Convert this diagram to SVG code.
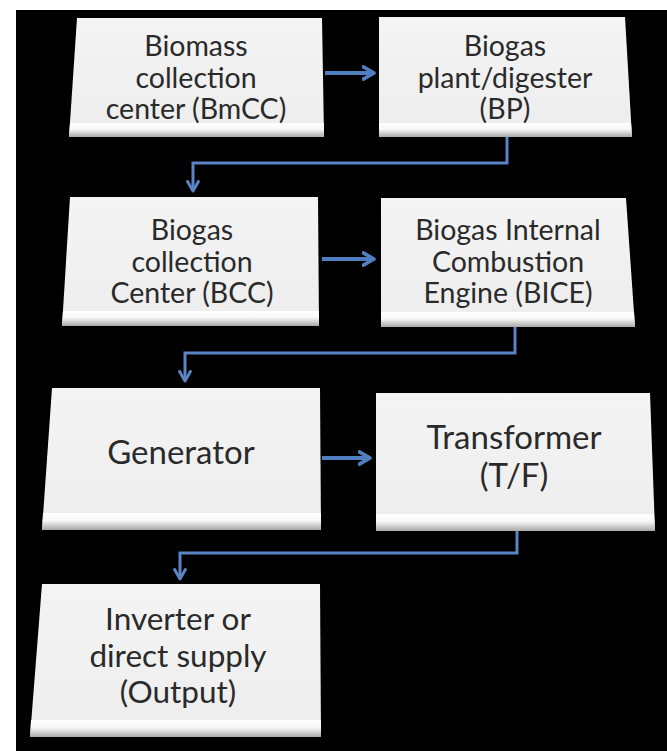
<svg xmlns="http://www.w3.org/2000/svg" width="667" height="751" viewBox="0 0 667 751">
  <defs>
    <style>
      .box { fill: url(#face); }
      .bevel { fill: url(#bev); }
      .lbl { font-family: Lato, "Open Sans", "Liberation Sans", sans-serif; font-size: 28.5px; fill: #2a2a2a; text-anchor: middle; }
      .lbl2 { font-family: Lato, "Open Sans", "Liberation Sans", sans-serif; font-size: 33px; fill: #2a2a2a; text-anchor: middle; }
      .lbl3 { font-family: Lato, "Open Sans", "Liberation Sans", sans-serif; font-size: 31.5px; fill: #2a2a2a; text-anchor: middle; }
      .conn { fill: none; stroke: #5a84c4; stroke-width: 3; stroke-linejoin: miter; }
      .harr { fill: none; stroke: #4f7fc0; stroke-width: 4; }
    </style>
    <linearGradient id="face" x1="0" y1="0" x2="0" y2="1">
      <stop offset="0" stop-color="#f4f4f4"/>
      <stop offset="1" stop-color="#ededed"/>
    </linearGradient>
    <linearGradient id="bev" x1="0" y1="0" x2="0" y2="1">
      <stop offset="0" stop-color="#ffffff"/>
      <stop offset="0.45" stop-color="#f7f7f7"/>
      <stop offset="1" stop-color="#a8a8a8"/>
    </linearGradient>
    <marker id="ah" viewBox="0 0 10 10" refX="8" refY="5" markerWidth="4.5" markerHeight="4.5" orient="auto" markerUnits="strokeWidth">
      <path d="M1,1 L8,5 L1,9" fill="none" stroke="#5a84c4" stroke-width="2.2" stroke-linecap="round" stroke-linejoin="round"/>
    </marker>
    <marker id="ah2" viewBox="0 0 10 10" refX="8" refY="5" markerWidth="3.8" markerHeight="3.8" orient="auto" markerUnits="strokeWidth">
      <path d="M1,1 L8,5 L1,9" fill="none" stroke="#4f7fc0" stroke-width="2.4" stroke-linecap="round" stroke-linejoin="round"/>
    </marker>
  </defs>

  <rect x="0" y="0" width="667" height="751" fill="#ffffff"/>
  <rect x="16" y="10" width="651" height="741" fill="#000000"/>

  <g id="bmcc">
    <polygon class="box" points="77,18 322,18 324,137 69,137"/>
    <polygon class="bevel" points="70,123 324,123 324,137 69,137"/>
    <text class="lbl" x="196" y="56">Biomass</text>
    <text class="lbl" x="196" y="87.5">collection</text>
    <text class="lbl" x="196" y="119">center (BmCC)</text>
  </g>

  <g id="bp">
    <polygon class="box" points="379,17 625,17 632,137 379,137"/>
    <polygon class="bevel" points="379,123 631,123 632,137 379,137"/>
    <text class="lbl" x="505" y="56">Biogas</text>
    <text class="lbl" x="505" y="87.5">plant/digester</text>
    <text class="lbl" x="505" y="119">(BP)</text>
  </g>

  <g id="bcc">
    <polygon class="box" points="70,197 318,197 319,326 62,326"/>
    <polygon class="bevel" points="63,311 319,311 319,326 62,326"/>
    <text class="lbl" x="192" y="240">Biogas</text>
    <text class="lbl" x="192" y="271.5">collection</text>
    <text class="lbl" x="192" y="303">Center (BCC)</text>
  </g>

  <g id="bice">
    <polygon class="box" points="381,198 626,198 635,327 381,327"/>
    <polygon class="bevel" points="381,312 634,312 635,327 381,327"/>
    <text class="lbl" x="508" y="240">Biogas Internal</text>
    <text class="lbl" x="508" y="271.5">Combustion</text>
    <text class="lbl" x="508" y="303">Engine (BICE)</text>
  </g>

  <g id="generator">
    <polygon class="box" points="52,388 320,388 321,530 42,530"/>
    <polygon class="bevel" points="43,513 321,513 321,530 42,530"/>
    <text class="lbl2" x="181" y="464">Generator</text>
  </g>

  <g id="transformer">
    <polygon class="box" points="376,393 650,393 655,531 376,531"/>
    <polygon class="bevel" points="376,514 654,514 655,531 376,531"/>
    <text class="lbl2" x="514" y="449">Transformer</text>
    <text class="lbl2" x="514" y="487">(T/F)</text>
  </g>

  <g id="output">
    <polygon class="box" points="42,584 320,584 321,737 30,737"/>
    <polygon class="bevel" points="31,720 321,720 321,737 30,737"/>
    <text class="lbl3" x="178" y="630">Inverter or</text>
    <text class="lbl3" x="178" y="666.5">direct supply</text>
    <text class="lbl3" x="178" y="703">(Output)</text>
  </g>

  <g id="connectors">
    <path class="harr" d="M325,73 H374" marker-end="url(#ah2)"/>
    <path class="harr" d="M322,259 H374" marker-end="url(#ah2)"/>
    <path class="harr" d="M322,458 H370" marker-end="url(#ah2)"/>
    <path class="conn" d="M507,137 V163 H193 V191" marker-end="url(#ah)"/>
    <path class="conn" d="M515,327 V353 H185 V381" marker-end="url(#ah)"/>
    <path class="conn" d="M517,531 V553 H180 V579" marker-end="url(#ah)"/>
  </g>
</svg>
